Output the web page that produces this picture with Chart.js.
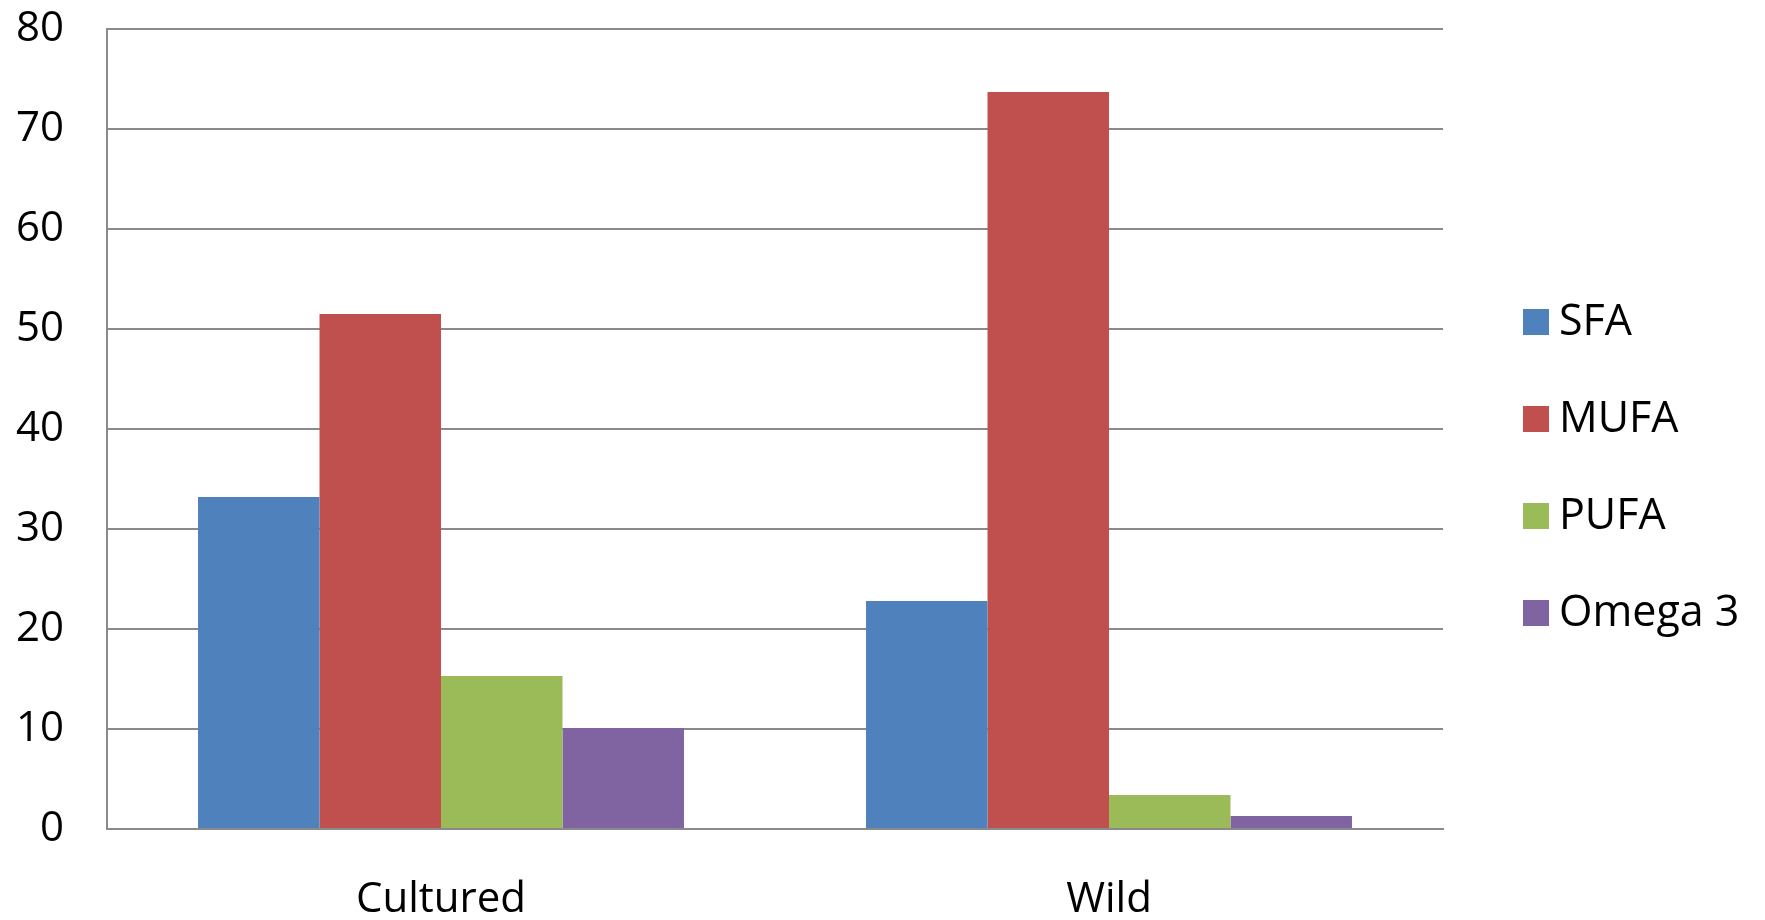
<!DOCTYPE html>
<html>
<head>
<meta charset="utf-8">
<script src="https://cdn.jsdelivr.net/npm/chart.js@4/dist/chart.umd.min.js"></script>
<style>
  html, body { margin: 0; padding: 0; background: #ffffff; }
  #wrap { width: 1765px; height: 920px; }
</style>
</head>
<body>
<div id="wrap"><canvas id="c" width="1765" height="920"></canvas></div>
<script>
// Fatty acid composition (% of total fatty acids)
const categories = ['Cultured', 'Wild'];
const seriesNames = ['SFA', 'MUFA', 'PUFA', 'Omega 3'];
const sfa    = [33.2, 22.8];
const mufa   = [51.5, 73.7];
const pufa   = [15.3, 3.4];
const omega3 = [10.1, 1.3];
const yTicks = [0, 10, 20, 30, 40, 50, 60, 70, 80];

const colors = ['#4F81BD', '#C0504D', '#9BBB59', '#8064A2'];
const seriesValues = [sfa, mufa, pufa, omega3];

const FONT = '"Open Sans", Lato, sans-serif';
const FONT_SIZE = 42;

// Legend drawn on the right, one square swatch per series
const sideLegend = {
  id: 'sideLegend',
  afterDraw(chart) {
    const ctx = chart.ctx;
    const area = chart.chartArea;
    const box = 26;
    const x = area.right + 80;
    const firstY = 322;
    const step = 97;
    ctx.save();
    ctx.font = '43px ' + FONT;
    ctx.textBaseline = 'middle';
    ctx.textAlign = 'left';
    chart.data.datasets.forEach((ds, i) => {
      const cy = firstY + i * step;
      ctx.fillStyle = ds.backgroundColor;
      ctx.fillRect(x, cy - box / 2, box, box);
      ctx.fillStyle = '#000000';
      ctx.fillText(ds.label, x + box + 10, cy + 1);
    });
    ctx.restore();
  }
};

new Chart(document.getElementById('c'), {
  type: 'bar',
  data: {
    labels: categories,
    datasets: seriesNames.map((name, i) => ({
      label: name,
      data: seriesValues[i],
      backgroundColor: colors[i],
      borderWidth: 0,
      categoryPercentage: 0.7275,
      barPercentage: 1.0
    }))
  },
  options: {
    responsive: false,
    animation: false,
    devicePixelRatio: 1,
    layout: { padding: { top: 29, right: 322, bottom: 0, left: 0 } },
    plugins: {
      legend: { display: false },
      tooltip: { enabled: false }
    },
    scales: {
      x: {
        grid: { display: false, drawTicks: false },
        border: { display: true, color: '#8a8a8a', width: 2 },
        ticks: {
          color: '#000000',
          font: { family: FONT, size: FONT_SIZE },
          padding: 46
        },
        afterFit(scale) {
          scale.height = 91;
          scale.paddingLeft = 0;
          scale.paddingRight = 0;
        }
      },
      y: {
        min: 0,
        max: 80,
        afterBuildTicks(scale) { scale.ticks = yTicks.map(v => ({ value: v })); },
        grid: { color: '#8a8a8a', lineWidth: 2, drawTicks: false },
        border: { display: true, color: '#8a8a8a', width: 2 },
        ticks: {
          color: '#000000',
          font: { family: FONT, size: FONT_SIZE },
          padding: 43
        },
        afterFit(scale) {
          scale.width = 107;
          scale.paddingTop = 0;
          scale.paddingBottom = 0;
        }
      }
    }
  },
  plugins: [sideLegend]
});
</script>
</body>
</html>
